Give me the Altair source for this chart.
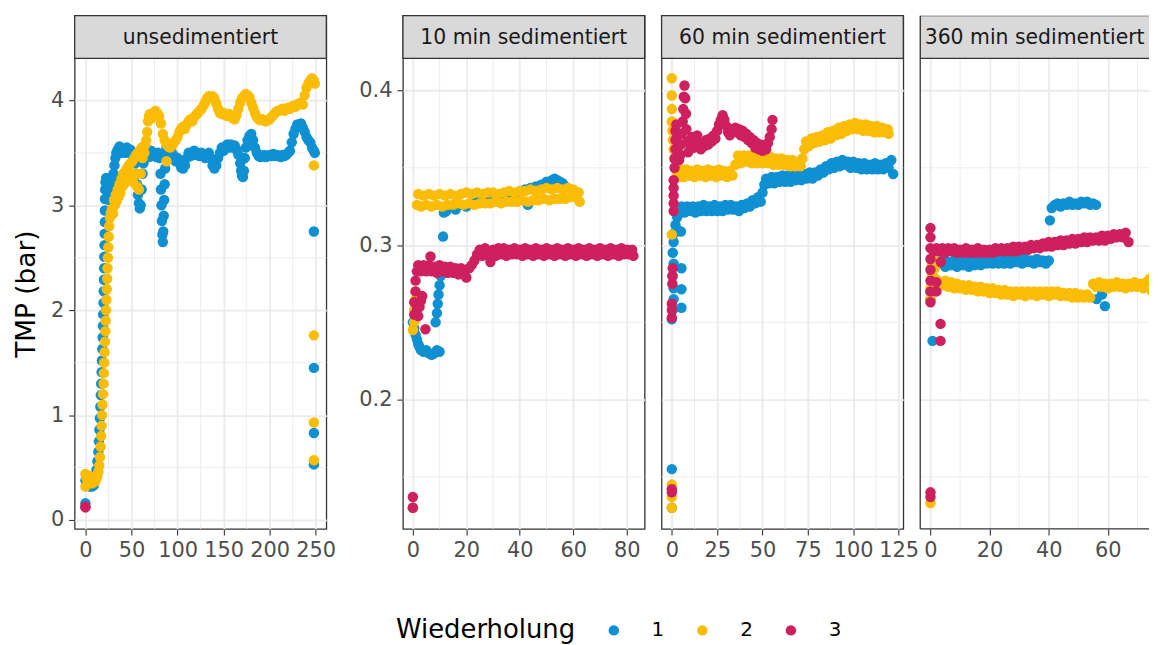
import altair as alt
import pandas as pd

FONT = "DejaVu Sans"
panel_titles = ["unsedimentiert", "10 min sedimentiert", "60 min sedimentiert", "360 min sedimentiert"]
reps = ["1", "2", "3"]
rep_colors = ["#0E90D2", "#FBBC05", "#CE1F5E"]

# ---------------- unsedimentiert ----------------
u_rep1 = [(0,0.16),(0,0.38),(1,0.34),(2,0.36),(3,0.33),(4,0.35),(5,0.32),(6,0.34),(7,0.32),(8,0.34),(9,0.33),(10,0.37),
          (11,0.42),(12,0.48),(13,0.56),(14,0.65),(14.6,0.75),(15.2,0.86),(15.7,0.97),(16.2,1.08),(16.7,1.19),(17.1,1.3),
          (17.5,1.41),(17.9,1.52),(18.3,1.63),(18.7,1.74),(19.0,1.85),(19.3,1.96),(19.6,2.07),(19.9,2.18),(20.1,2.29),
          (20.3,2.4),(20.5,2.51),(20.7,2.62),(20.9,2.73),(21.0,2.84),(21.1,2.95),(21.2,3.06),(21.4,3.15),(21.8,3.22),
          (22.5,3.26),(23.5,3.2),(24.5,3.1),(25.5,3.05),(26.5,3.1),(27.5,3.15),(28.5,3.2),(29.5,3.25),(30.5,3.3),
          (31.5,3.38),(32.5,3.45),(33.5,3.5),(35,3.53),(37,3.56),(39,3.5),(41,3.54),(43,3.5),(45,3.55),(47,3.5),
          (49,3.53),(51,3.48),(53,3.45),(54,3.4),(55,3.3),(56,3.2),(57,3.1),(58,3.02),(59,2.97),(60,3.0),(61,3.15),
          (62,3.3),(63,3.4),(65,3.45),(67,3.5),(69,3.46),(71,3.52),(73,3.47),(75,3.5),(77,3.46),(79,3.5),(80.5,3.45),
          (81.5,3.3),(82,3.15),(82.5,3.0),(83,2.85),(83.5,2.72),(84,2.65),(84.5,2.75),(85,2.9),(85.5,3.05),(86,3.2),
          (86.5,3.35),(87,3.48),(88,3.55),(90,3.5),(92,3.45),(94,3.5),(96,3.47),(98,3.42),(100,3.45),(102,3.4),
          (104,3.36),(106,3.35),(108,3.38),(110,3.45),(112,3.5),(114,3.47),(116,3.5),(118,3.52),(120,3.48),(122,3.5),
          (124,3.47),(126,3.5),(128,3.48),(130,3.45),(132,3.47),(134,3.5),(136,3.45),(138,3.38),(140,3.35),(142,3.38),
          (144,3.45),(146,3.5),(148,3.55),(150,3.52),(152,3.55),(154,3.58),(156,3.55),(158,3.58),(160,3.55),(162,3.57),
          (164,3.53),(166,3.48),(168,3.4),(169,3.33),(170,3.28),(171,3.27),(172,3.33),(173,3.45),(174,3.55),(176,3.62),
          (178,3.66),(180,3.68),(182,3.62),(184,3.55),(186,3.5),(188,3.47),(190,3.46),(192,3.47),(194,3.48),(196,3.46),
          (198,3.47),(200,3.48),(202,3.47),(204,3.49),(206,3.47),(208,3.48),(210,3.47),(212,3.46),(214,3.48),(216,3.47),
          (218,3.48),(220,3.5),(222,3.52),(224,3.6),(226,3.68),(228,3.73),(230,3.77),(232,3.75),(234,3.78),(236,3.74),
          (238,3.7),(240,3.65),(242,3.62),(244,3.6),(246,3.55),(248,3.52),(249,3.5),
          (248,2.75),(248,1.45),(248,0.83),(248,0.53)]
u_rep2 = [(0,0.44),(0,0.32),(1,0.4),(2,0.43),(3,0.37),(4,0.42),(5,0.36),(6,0.4),(7,0.35),(8,0.39),(9,0.36),(10,0.4),
          (11,0.37),(12,0.4),(13,0.42),(14,0.46),(15,0.52),(15.8,0.6),(16.5,0.7),(17.1,0.8),(17.6,0.9),(18.1,1.0),
          (18.6,1.1),(19.1,1.2),(19.6,1.3),(20.0,1.4),(20.4,1.5),(20.8,1.6),(21.2,1.7),(21.6,1.8),(22.0,1.9),(22.4,2.0),
          (22.8,2.1),(23.2,2.2),(23.6,2.3),(24.0,2.4),(24.4,2.5),(24.8,2.6),(25.3,2.7),(25.8,2.8),(26.5,2.88),
          (27.5,2.93),(29,2.97),(30,2.92),(31,3.05),(32,3.0),(33,3.1),(34,3.04),(35,3.15),(36,3.08),(37,3.2),(38,3.12),
          (39,3.25),(40,3.18),(41,3.3),(42,3.2),(43,3.32),(44,3.24),(45,3.35),(46,3.26),(47,3.38),(48,3.28),(49,3.4),
          (50,3.3),(51,3.42),(52,3.22),(53,3.45),(54,3.3),(55,3.48),(56,3.18),(57,3.5),(58,3.15),(59,3.52),(60,3.3),
          (61,3.55),(62,3.45),(63,3.55),(64,3.5),(65,3.58),(66,3.62),(67,3.7),(68,3.8),(69,3.85),(70,3.87),(72,3.83),
          (74,3.86),(76,3.9),(78,3.88),(80,3.85),(82,3.78),(84,3.68),(86,3.62),(88,3.58),(90,3.56),(92,3.55),(94,3.57),
          (96,3.6),(98,3.62),(100,3.65),(102,3.7),(104,3.73),(106,3.75),(108,3.73),(110,3.77),(112,3.8),(114,3.82),
          (116,3.8),(118,3.84),(120,3.86),(122,3.88),(124,3.9),(126,3.92),(128,3.95),(130,3.98),(132,4.02),(134,4.04),
          (136,4.03),(138,4.04),(140,4.02),(142,3.97),(144,3.92),(146,3.88),(148,3.87),(150,3.88),(152,3.86),(154,3.85),
          (156,3.87),(158,3.85),(160,3.83),(162,3.82),(164,3.86),(166,3.92),(168,3.98),(170,4.02),(172,4.04),(174,4.06),
          (176,4.05),(178,4.03),(180,3.98),(182,3.93),(184,3.88),(186,3.84),(188,3.82),(190,3.81),(192,3.82),(194,3.81),
          (196,3.8),(198,3.81),(200,3.82),(202,3.84),(204,3.86),(206,3.88),(208,3.9),(210,3.9),(212,3.91),(214,3.92),
          (216,3.9),(218,3.92),(220,3.93),(222,3.92),(224,3.94),(226,3.95),(228,3.94),(230,3.96),(232,3.97),(234,3.98),
          (236,3.96),(238,4.05),(240,4.12),(242,4.16),(244,4.19),(246,4.21),(248,4.19),(249,4.16),
          (88,3.42),(248,3.38),(248,1.76),(248,0.93),(248,0.57)]
u_rep3 = [(0,0.13),(0,0.12)]

# ---------------- 10 min sedimentiert ----------------
t_rep1 = [(0,0.13),(0,0.25),(0.5,0.246),(1,0.242),(1.5,0.239),(2,0.236),(2.5,0.234),(3,0.232),(4,0.231),(5,0.232),
          (6,0.23),(7,0.229),(8,0.23),(9,0.232),(10,0.231),(8.5,0.25),(9,0.256),(9.3,0.262),(9.6,0.268),(10,0.274),
          (10.4,0.28),(11.3,0.3055),(11.6,0.321),(12.5,0.322),(14,0.325),(16,0.323),(18,0.326),(20,0.325),(22,0.327),
          (24,0.328),(26,0.329),(28,0.328),(30,0.33),(32,0.331),(34,0.33),(36,0.332),(38,0.333),(40,0.334),(42,0.336),
          (43,0.326),(44,0.337),(46,0.338),(48,0.339),(50,0.341),(52,0.342),(53,0.343),(54,0.342),(55,0.341),(56,0.34),
          (57,0.338)]
t_rep2 = [(0,0.13),(0,0.245),(0.5,0.25),(0.5,0.258),(1,0.265),(1,0.27),(1.5,0.326),(2,0.333),(3,0.325),(4,0.332),
          (5,0.326),(6,0.333),(7,0.325),(8,0.332),(9,0.326),(10,0.333),(11,0.325),(12,0.332),(13,0.326),(14,0.333),
          (15,0.326),(16,0.332),(17,0.327),(18,0.333),(19,0.326),(20,0.334),(21,0.327),(22,0.333),(23,0.326),(24,0.334),
          (25,0.327),(26,0.333),(27,0.327),(28,0.334),(29,0.327),(30,0.334),(31,0.328),(32,0.333),(33,0.327),(34,0.334),
          (35,0.328),(36,0.335),(37,0.328),(38,0.334),(39,0.328),(40,0.335),(41,0.329),(42,0.335),(43,0.328),(44,0.336),
          (45,0.329),(46,0.335),(47,0.329),(48,0.336),(49,0.33),(50,0.337),(51,0.329),(52,0.336),(53,0.33),(54,0.337),
          (55,0.33),(56,0.336),(57,0.33),(58,0.337),(59,0.331),(60,0.336),(61,0.331),(62,0.334),(62.4,0.328)]
t_rep3 = [(0,0.13),(0,0.137),(0.5,0.255),(0.5,0.263),(1,0.27),(1,0.277),(1.5,0.283),(2,0.287),(1.5,0.258),(2,0.254),
          (2.5,0.26),(3,0.264),(3.5,0.267),(4.7,0.2455),(3,0.283),(4,0.287),(5,0.283),(6.6,0.2926),(6,0.287),(7,0.283),
          (8,0.286),(9,0.282),(10,0.287),(11,0.283),(12,0.286),(13,0.282),(14,0.286),(15,0.282),(16,0.285),(17,0.281),
          (18,0.285),(19,0.281),(20,0.279),(21,0.285),(22,0.287),(23,0.29),(24,0.294),(25,0.297),(26,0.293),(27,0.298),
          (28,0.294),(29,0.289),(30,0.297),(31,0.293),(32,0.298),(33,0.294),(34,0.298),(35,0.293),(36,0.297),(37,0.294),
          (38,0.298),(39,0.294),(40,0.297),(41,0.293),(42,0.298),(43,0.294),(44,0.297),(45,0.293),(46,0.298),(47,0.294),
          (48,0.297),(49,0.293),(50,0.298),(51,0.294),(52,0.297),(53,0.293),(54,0.298),(55,0.294),(56,0.297),(57,0.293),
          (58,0.298),(59,0.294),(60,0.297),(61,0.293),(62,0.298),(63,0.294),(64,0.297),(65,0.293),(66,0.298),(67,0.294),
          (68,0.297),(69,0.293),(70,0.298),(71,0.294),(72,0.297),(73,0.293),(74,0.298),(75,0.294),(76,0.297),(77,0.293),
          (78,0.298),(79,0.294),(80,0.297),(81,0.294),(82,0.297),(82.5,0.293)]

# ---------------- 60 min sedimentiert ----------------
s_rep1 = [(0,0.155),(0,0.13),(0,0.252),(0.5,0.258),(1,0.265),(1,0.272),(0.5,0.28),(1,0.288),(0.5,0.295),(1,0.302),
          (1.5,0.308),(2,0.313),(3,0.31),(5.3,0.2594),(5.3,0.2714),(5.3,0.285),(5,0.3088),(3,0.318),(4,0.322),(5.5,0.325),
          (7,0.321),(8.5,0.325),(10,0.322),(11.5,0.325),(13,0.321),(14.5,0.325),(16,0.322),(17.5,0.326),(19,0.322),
          (20.5,0.325),(22,0.322),(23.5,0.326),(25,0.322),(26.5,0.325),(28,0.322),(29.5,0.326),(31,0.323),(32.5,0.326),
          (34,0.323),(35.5,0.325),(37,0.322),(38.5,0.326),(40,0.324),(41.5,0.327),(43,0.325),(44.5,0.329),(46,0.327),
          (47.5,0.331),(49,0.328),(50,0.334),(51,0.339),(52,0.343),(53.5,0.34),(55,0.344),(56.5,0.34),(58,0.344),
          (59.5,0.341),(61,0.345),(62.5,0.341),(64,0.345),(65.5,0.341),(67,0.345),(68.5,0.342),(70,0.346),(71.5,0.342),
          (73,0.346),(74.5,0.343),(76,0.347),(77.5,0.343),(79,0.347),(80.5,0.345),(82,0.349),(83.5,0.347),(85,0.351),
          (86.5,0.349),(88,0.353),(89.5,0.35),(91,0.354),(92.5,0.351),(94,0.355),(95.5,0.352),(97,0.354),(98.5,0.35),
          (100,0.354),(101.5,0.35),(103,0.353),(104.5,0.349),(106,0.353),(107.5,0.349),(109,0.352),(110.5,0.349),
          (112,0.353),(113.5,0.349),(115,0.352),(116.5,0.349),(118,0.353),(119.5,0.35),(121,0.355),(122,0.346)]
s_rep2 = [(0,0.13),(0,0.137),(0,0.145),(0,0.3068),(0,0.4079),(0,0.3968),(0,0.388),(0,0.38),(0.3,0.374),(0.6,0.368),
          (1,0.362),(1.5,0.356),(2,0.351),(3,0.347),(4,0.344),(5,0.349),(6.5,0.344),(8,0.349),(9.5,0.345),(11,0.348),
          (12.5,0.344),(14,0.349),(15.5,0.345),(17,0.348),(18.5,0.344),(20,0.349),(21.5,0.345),(23,0.348),(24.5,0.344),
          (26,0.349),(27.5,0.345),(29,0.348),(30.5,0.344),(32,0.348),(33.5,0.345),(35,0.352),(36.5,0.358),(38,0.353),
          (39.5,0.358),(41,0.354),(42.5,0.358),(44,0.353),(45.5,0.357),(47,0.353),(48.5,0.358),(50,0.353),(51.5,0.357),
          (53,0.353),(54.5,0.357),(56,0.352),(57.5,0.356),(59,0.352),(60.5,0.356),(62,0.352),(63.5,0.355),(65,0.351),
          (66.5,0.355),(68,0.351),(69.5,0.354),(71,0.351),(72,0.356),(73,0.362),(74,0.367),(75.5,0.364),(77,0.369),
          (78.5,0.366),(80,0.37),(81.5,0.367),(83,0.371),(84.5,0.368),(86,0.373),(87.5,0.369),(89,0.374),(90.5,0.371),
          (92,0.376),(93.5,0.372),(95,0.377),(96.5,0.374),(98,0.378),(99.5,0.375),(101,0.379),(102.5,0.375),(104,0.378),
          (105.5,0.374),(107,0.378),(108.5,0.374),(110,0.377),(111.5,0.373),(113,0.377),(114.5,0.373),(116,0.376),
          (117.5,0.373),(119,0.375),(119.5,0.372)]
s_rep3 = [(0,0.14),(0,0.142),(0,0.253),(0,0.258),(0,0.262),(0.3,0.275),(0.3,0.28),(0.5,0.285),(1,0.322),(1,0.327),
          (1,0.332),(1,0.337),(1,0.342),(1.5,0.35),(1.5,0.356),(2,0.362),(2,0.368),(2,0.374),(2.5,0.378),(3,0.37),
          (3.5,0.36),(4,0.355),(4.5,0.358),(5,0.365),(5.5,0.372),(6,0.38),(6.3,0.388),(6.6,0.396),(7,0.4033),(7.4,0.395),
          (7.8,0.385),(8,0.375),(8.5,0.367),(9,0.36),(10,0.365),(11,0.37),(12,0.363),(13,0.367),(14,0.371),(15,0.366),
          (16,0.362),(17,0.366),(18,0.364),(19,0.368),(20,0.365),(21,0.369),(22,0.367),(23,0.371),(24,0.369),(25,0.374),
          (26,0.378),(27,0.381),(28,0.384),(29,0.381),(30,0.377),(31,0.373),(32,0.371),(33,0.375),(34,0.374),(35,0.376),
          (36,0.373),(37,0.375),(38,0.371),(39,0.374),(40,0.37),(41,0.372),(42,0.368),(43,0.37),(44,0.366),(45,0.368),
          (46,0.363),(47,0.366),(48,0.362),(49,0.365),(50,0.361),(51,0.364),(52,0.362),(53,0.366),(54,0.37),(55,0.375),
          (55.5,0.381)]

# ---------------- 360 min sedimentiert ----------------
h_rep1 = [(0.7,0.238),(0,0.265),(0,0.27),(0.3,0.276),(0.5,0.282),(1,0.287),(2,0.289),(3,0.288),(4,0.29),(5,0.286),
          (6,0.289),(7,0.287),(8,0.29),(9,0.286),(10,0.289),(11,0.287),(12,0.29),(13,0.286),(14,0.289),(15,0.287),
          (16,0.29),(17,0.287),(18,0.29),(19,0.288),(20,0.291),(21,0.288),(22,0.29),(23,0.288),(24,0.291),(25,0.288),
          (26,0.29),(27,0.288),(28,0.291),(29,0.289),(30,0.291),(31,0.288),(32,0.291),(33,0.289),(34,0.29),(35,0.288),
          (36,0.291),(37,0.289),(38,0.29),(39,0.288),(40,0.29),(40.4,0.316),(41,0.324),(42,0.326),(43,0.327),(44,0.325),
          (45,0.327),(46,0.326),(47,0.328),(48,0.326),(49,0.327),(50,0.326),(51,0.328),(52,0.327),(53,0.328),(54,0.326),
          (55,0.327),(56,0.326),(56.2,0.265),(58,0.268),(59,0.2605)]
h_rep2 = [(0,0.133),(0,0.265),(0,0.272),(0.5,0.28),(0.5,0.287),(1,0.293),(1.5,0.285),(2,0.278),(3,0.276),(4,0.274),
          (5,0.277),(6,0.273),(7,0.276),(8,0.272),(9,0.275),(10,0.272),(11,0.274),(12,0.271),(13,0.274),(14,0.271),
          (15,0.273),(16,0.27),(17,0.273),(18,0.27),(19,0.272),(20,0.269),(21,0.272),(22,0.269),(23,0.271),(24,0.268),
          (25,0.271),(26,0.268),(27,0.27),(28,0.267),(29,0.27),(30,0.268),(31,0.27),(32,0.267),(33,0.27),(34,0.268),
          (35,0.27),(36,0.267),(37,0.27),(38,0.268),(39,0.27),(40,0.267),(41,0.27),(42,0.268),(43,0.27),(44,0.267),
          (45,0.269),(46,0.267),(47,0.269),(48,0.266),(49,0.269),(50,0.266),(51,0.268),(52,0.266),(53,0.268),(54,0.266),
          (55,0.275),(56,0.273),(57,0.276),(58,0.273),(59,0.275),(60,0.272),(61,0.275),(62,0.273),(63,0.276),(64,0.273),
          (65,0.275),(66,0.272),(67,0.275),(68,0.273),(69,0.276),(70,0.273),(71,0.275),(72,0.272),(73,0.276),(74,0.278),
          (75,0.27)]
h_rep3 = [(0,0.137),(0,0.14),(0,0.263),(0,0.27),(0,0.277),(0,0.284),(0,0.291),(0,0.298),(0,0.305),(0,0.311),
          (3.4,0.249),(3.4,0.238),(2,0.27),(2,0.276),(3.5,0.289),(1,0.296),(2,0.298),(3,0.296),(4,0.298),(5,0.295),
          (6,0.298),(7,0.296),(8,0.298),(9,0.295),(10,0.297),(11,0.295),(12,0.298),(13,0.295),(14,0.297),(15,0.295),
          (16,0.298),(17,0.295),(18,0.297),(19,0.295),(20,0.297),(21,0.295),(22,0.298),(23,0.296),(24,0.298),(25,0.296),
          (26,0.298),(27,0.296),(28,0.299),(29,0.296),(30,0.299),(31,0.297),(32,0.299),(33,0.297),(34,0.3),(35,0.298),
          (36,0.3),(37,0.298),(38,0.301),(39,0.299),(40,0.302),(41,0.299),(42,0.302),(43,0.3),(44,0.303),(45,0.3),
          (46,0.303),(47,0.301),(48,0.304),(49,0.301),(50,0.304),(51,0.302),(52,0.305),(53,0.302),(54,0.305),(55,0.303),
          (56,0.305),(57,0.303),(58,0.306),(59,0.303),(60,0.306),(61,0.304),(62,0.307),(63,0.305),(64,0.307),(65,0.305),
          (66,0.308),(67,0.302)]

# ---------------- ticks ----------------
u_x_major = [0, 50, 100, 150, 200, 250]
u_x_minor = [25, 75, 125, 175, 225]
u_y_major = [0, 1, 2, 3, 4]
u_y_minor = [0.5, 1.5, 2.5, 3.5]
t_x_major = [0, 20, 40, 60, 80]
t_x_minor = [10, 30, 50, 70]
s_x_major = [0, 25, 50, 75, 100, 125]
s_x_minor = [12.5, 37.5, 62.5, 87.5, 112.5]
h_x_major = [0, 20, 40, 60]
h_x_minor = [10, 30, 50, 70]
sed_y_major = [0.2, 0.3, 0.4]
sed_y_minor = [0.15, 0.25, 0.35]

STRIP_H = 43
PLOT_H = 473
BORDER = "#333333"


def points_frame(series_list):
    rows = []
    for rep, pts in zip(reps, series_list):
        for x, y in pts:
            rows.append({"x": x, "y": y, "Wiederholung": rep})
    return pd.DataFrame(rows)


legend = alt.Legend(orient="none", legendX=323, legendY=608, direction="horizontal",
                    title="Wiederholung", titleOrient="left", titleFont=FONT, titleFontSize=26,
                    titleFontWeight="normal", titleColor="black", titlePadding=28, titleLimit=400,
                    labelFont=FONT, labelFontSize=20, labelColor="black", labelOffset=28,
                    columnPadding=28, symbolType="circle", symbolSize=110, symbolStrokeWidth=0,
                    padding=0)
color = alt.Color("Wiederholung:N", scale=alt.Scale(domain=reps, range=rep_colors), legend=legend)


def make_axis(values, labels, title, orient):
    kw = dict(values=values, grid=True, gridColor="#EBEBEB", gridWidth=1.8, domain=False,
              labels=labels, ticks=labels, tickSize=6, tickColor=BORDER, tickWidth=1.1,
              labelFont=FONT, labelFontSize=21, labelColor="#4D4D4D", labelPadding=5,
              labelFlush=False, labelOverlap=False, orient=orient)
    if title:
        kw.update(title=title, titleFont=FONT, titleFontSize=26.5, titleFontWeight="normal",
                  titleColor="black", titlePadding=10, titleY=STRIP_H + PLOT_H / 2)
    else:
        kw["title"] = None
    return alt.Axis(**kw)


def make_panel(title, series_list, xdom, xmaj, xmin, ydom, ymaj, ymin, width, ylabels, ytitle=None,
               open_right=False):
    # y domain extends upward by the strip height so the strip sits inside the same view
    H = STRIP_H + PLOT_H
    xs = alt.Scale(domain=xdom, nice=False, zero=False)
    ys = alt.Scale(domain=ydom, nice=False, zero=False)
    xa = make_axis(xmaj, True, None, "bottom")
    ya = make_axis(ymaj, ylabels, ytitle, "left")
    vx = alt.Chart(pd.DataFrame({"gx": xmin})).mark_rule(color="#EBEBEB", strokeWidth=0.9).encode(
        x=alt.X("gx:Q", scale=xs, axis=xa))
    vy = alt.Chart(pd.DataFrame({"gy": ymin})).mark_rule(color="#EBEBEB", strokeWidth=0.9).encode(
        y=alt.Y("gy:Q", scale=ys, axis=ya))
    pts = alt.Chart(points_frame(series_list)).mark_circle(size=110, opacity=1, clip=True).encode(
        x=alt.X("x:Q", scale=xs, axis=xa),
        y=alt.Y("y:Q", scale=ys, axis=ya),
        color=color)
    strip_df = pd.DataFrame({"label": [title]})
    strip_rect = alt.Chart(strip_df).mark_rect(
        fill="#D9D9D9", stroke=BORDER, strokeWidth=1.3, clip=open_right).encode(
        x=alt.value(0), x2=alt.value(width + 6 if open_right else width),
        y=alt.value(0), y2=alt.value(STRIP_H))
    strip_text = alt.Chart(strip_df).mark_text(
        font=FONT, fontSize=20.5, color="#1A1A1A", baseline="middle", align="center").encode(
        text="label:N", x=alt.value(width / 2), y=alt.value(22.5))
    layers = [vx, vy, pts, strip_rect, strip_text]
    if open_right:
        left_edge = alt.Chart(strip_df).mark_rule(color=BORDER, strokeWidth=1.3).encode(
            x=alt.value(0), y=alt.value(0), y2=alt.value(H))
        bottom_edge = alt.Chart(strip_df).mark_rule(color=BORDER, strokeWidth=1.3).encode(
            x=alt.value(0), x2=alt.value(width), y=alt.value(H))
        layers += [left_edge, bottom_edge]
    chart = alt.layer(*layers).properties(width=width, height=H)
    if open_right:
        chart = chart.properties(view=alt.ViewBackground(stroke="transparent", fill="white"))
    return chart


W4 = 230
p1 = make_panel(panel_titles[0], [u_rep1, u_rep2, u_rep3], [-11.7, 261.5], u_x_major, u_x_minor,
                [-0.085, 4.8077], u_y_major, u_y_minor, 253, True, "TMP (bar)")
p2 = make_panel(panel_titles[1], [t_rep1, t_rep2, t_rep3], [-3.72, 86.7], t_x_major, t_x_minor,
                [0.1163, 0.44848], sed_y_major, sed_y_minor, 243, True)
p3 = make_panel(panel_titles[2], [s_rep1, s_rep2, s_rep3], [-5.65, 127.6], s_x_major, s_x_minor,
                [0.1163, 0.44848], sed_y_major, sed_y_minor, 243, False)
p4 = make_panel(panel_titles[3], [h_rep1, h_rep2, h_rep3], [-3.47, -3.47 + W4 / 2.972], h_x_major, h_x_minor,
                [0.1163, 0.44848], sed_y_major, sed_y_minor, W4, False, open_right=True)

p34 = alt.hconcat(p3, p4, spacing=-1)
p234 = alt.hconcat(p2, p34, spacing=13)
chart = alt.hconcat(p1, p234, spacing=20).properties(
    padding={"left": 4, "top": 4, "right": 0, "bottom": 0}
).configure(font=FONT).configure_view(stroke=BORDER, strokeWidth=1.3, fill="white")

chart.save("out.html", embed_options={"renderer": "svg", "actions": False})
